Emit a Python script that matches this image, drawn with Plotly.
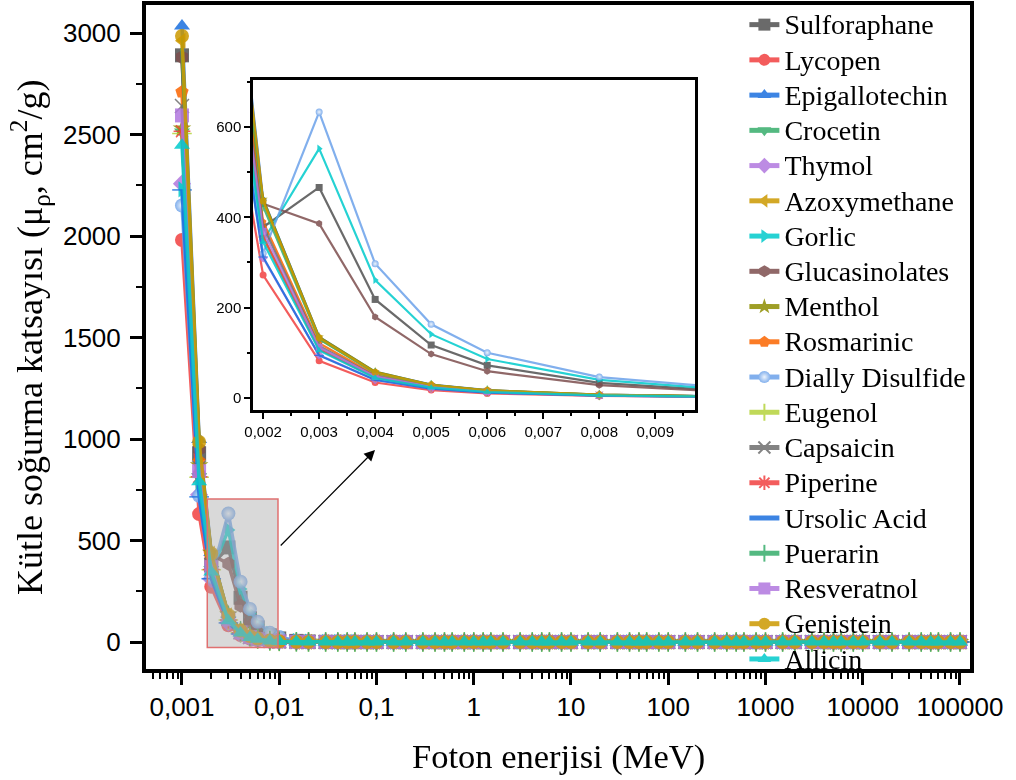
import plotly.graph_objects as go

# Photon energies (MeV)
energy_low = [0.001, 0.0015, 0.002, 0.003, 0.004, 0.005, 0.006, 0.008, 0.01]
energy_high = [0.015, 0.02, 0.03, 0.04, 0.05, 0.06, 0.08,
               0.1, 0.15, 0.2, 0.3, 0.4, 0.5, 0.6, 0.8,
               1, 1.25, 1.5, 2, 3, 4, 5, 6, 8,
               10, 15, 20, 30, 40, 50, 60, 80,
               100, 150, 200, 300, 400, 500, 600, 800,
               1000, 1500, 2000, 3000, 4000, 5000, 6000, 8000,
               10000, 15000, 20000, 30000, 40000, 50000, 60000, 80000,
               100000]

# Mass attenuation coefficients (cm2/g) in the low-energy region
sulforaphane = [2890, 930, 378, 466, 218, 117, 72, 33, 17.5]
lycopen = [1980, 630, 272, 82, 34, 17.2, 9.8, 4.1, 2.2]
epigallotechin = [3035, 998, 441, 135, 57.6, 29.4, 17.0, 7.1, 3.7]
crocetin = [2512, 814, 357, 108, 46, 23.4, 13.4, 5.7, 2.9]
thymol = [2258, 725, 310, 95, 40, 20.4, 11.8, 4.9, 2.6]
azoxymethane = [2962, 971, 435, 131, 56, 28.4, 16.4, 6.9, 3.6]
gorlic = [2230, 740, 348, 552, 261, 141, 86, 40, 21]
glucosinolates = [2880, 950, 430, 386, 179, 97, 59, 28, 15]
menthol = [2530, 870, 440, 135, 58, 29, 16.8, 7.0, 3.6]
rosmarinic = [2710, 890, 390, 121, 51, 26, 15, 6.3, 3.3]
dially_disulfide = [2150, 720, 320, 633, 297, 163, 100, 46, 25]
eugenol = [2505, 812, 356, 108, 45.8, 23.3, 13.4, 5.6, 2.9]
capsaicin = [2640, 860, 380, 115, 48.5, 24.8, 14.2, 6.0, 3.1]
piperine = [2516, 814, 357, 108, 45.7, 23.3, 13.4, 5.6, 2.9]
ursolic_acid = [2227, 715, 312, 94, 39.6, 20.2, 11.6, 4.9, 2.5]
puerarin = [2926, 960, 424, 130, 55, 28.2, 16.2, 6.8, 3.5]
resveratnol = [2594, 842, 369, 112, 47.4, 24.2, 13.9, 5.8, 3.0]
genistein = [2985, 985, 436, 133, 56.5, 28.9, 16.7, 7.0, 3.6]
allicin = [2447, 790, 345, 105, 44, 22.5, 13.0, 5.4, 2.8]

# High-energy tails (cm2/g): compounds without / with sulfur
tail_plain = [0.95, 0.53, 0.30, 0.235, 0.21, 0.196, 0.179,
              0.167, 0.148, 0.135, 0.117, 0.105, 0.0957, 0.0887, 0.078,
              0.0701, 0.0627, 0.0571, 0.049, 0.0396, 0.034, 0.0303, 0.0277, 0.0243,
              0.0222, 0.0195, 0.0183, 0.0173, 0.0169, 0.0168, 0.0168, 0.0169,
              0.017, 0.0173, 0.0175, 0.0179, 0.0181, 0.0183, 0.0184, 0.0186,
              0.0187, 0.0189, 0.019, 0.0191, 0.0192, 0.0192, 0.0193, 0.0193,
              0.0193, 0.0194, 0.0194, 0.0194, 0.0195, 0.0195, 0.0195, 0.0195,
              0.0195]
tail_sulfur = [5.5, 2.45, 0.88, 0.50, 0.345, 0.27, 0.205,
               0.178, 0.148, 0.134, 0.116, 0.104, 0.0948, 0.0878, 0.0772,
               0.0694, 0.0621, 0.0566, 0.0488, 0.0398, 0.0346, 0.0311, 0.0287, 0.0256,
               0.0237, 0.0214, 0.0205, 0.0199, 0.0198, 0.0199, 0.02, 0.0203,
               0.0206, 0.0211, 0.0215, 0.022, 0.0223, 0.0225, 0.0227, 0.0229,
               0.0231, 0.0233, 0.0235, 0.0236, 0.0237, 0.0238, 0.0238, 0.0239,
               0.0239, 0.024, 0.024, 0.024, 0.0241, 0.0241, 0.0241, 0.0241,
               0.0241]

x_tick_vals = [0.001, 0.01, 0.1, 1, 10, 100, 1000, 10000, 100000]
x_tick_text = ["0,001", "0,01", "0,1", "1", "10", "100", "1000", "10000", "100000"]
y_tick_vals = [0, 500, 1000, 1500, 2000, 2500, 3000]

# name, low-energy values, tail, colour, symbol
series = [
    ("Sulforaphane", sulforaphane, tail_sulfur, "#515151", "square"),
    ("Lycopen", lycopen, tail_plain, "#F14040", "circle"),
    ("Epigallotechin", epigallotechin, tail_plain, "#1A6FDF", "triangle-up"),
    ("Crocetin", crocetin, tail_plain, "#37AD6B", "triangle-down"),
    ("Thymol", thymol, tail_plain, "#B177DE", "diamond"),
    ("Azoxymethane", azoxymethane, tail_plain, "#CC9900", "triangle-left"),
    ("Gorlic", gorlic, tail_sulfur, "#00CBCC", "triangle-right"),
    ("Glucasinolates", glucosinolates, tail_sulfur, "#7D4E4E", "hexagon"),
    ("Menthol", menthol, tail_plain, "#8E8E00", "star"),
    ("Rosmarinic", rosmarinic, tail_plain, "#FB6501", "pentagon"),
    ("Dially Disulfide", dially_disulfide, tail_sulfur, "#6CA2EA", "circle"),
    ("Eugenol", eugenol, tail_plain, "#B5D33D", "cross-thin"),
    ("Capsaicin", capsaicin, tail_plain, "#6E6E6E", "x-thin"),
    ("Piperine", piperine, tail_plain, "#F14040", "asterisk"),
    ("Ursolic Acid", ursolic_acid, tail_plain, "#1A6FDF", "line-ew"),
    ("Puerarin", puerarin, tail_plain, "#37AD6B", "line-ns"),
    ("Resveratnol", resveratnol, tail_plain, "#B177DE", "square"),
    ("Genistein", genistein, tail_plain, "#CC9900", "circle"),
    ("Allicin", allicin, tail_plain, "#00CBCC", "triangle-up"),
]

energies = energy_low + energy_high
open_symbols = {"cross-thin", "x-thin", "asterisk", "line-ew", "line-ns"}
SERIF = "Liberation Serif, Times New Roman"

fig = go.Figure()

for name, low, tail, color, symbol in series:
    values = low + tail
    is_open = symbol in open_symbols
    gradient = dict(type="radial", color="#EAF2FC") if name == "Dially Disulfide" else None
    # main panel
    fig.add_trace(go.Scatter(
        x=energies, y=values,
        name=f"<span style='font-size:28px'>{name}</span>",
        mode="lines+markers",
        line=dict(color=color, width=3.5),
        marker=dict(symbol=symbol, size=14, color=color,
                    line=dict(color=color, width=1.5 if is_open else 0),
                    gradient=gradient),
        opacity=0.85, xaxis="x", yaxis="y",
    ))
    # zoomed inset
    fig.add_trace(go.Scatter(
        x=energies, y=values, name=name, mode="lines+markers",
        line=dict(color=color, width=2.2),
        marker=dict(symbol=symbol, size=7, color=color,
                    line=dict(color=color, width=1 if is_open else 0),
                    gradient=gradient),
        opacity=0.85, showlegend=False, xaxis="x2", yaxis="y2",
    ))

X_RANGE = [-3.37, 5.103]
Y_RANGE = [-133, 3138]
INSET_X = [0.00182, 0.00971]
INSET_Y = [-27, 704]

tick_font = dict(family="Liberation Sans, Arial", size=26, color="black")
inset_font = dict(family="Liberation Sans, Arial", size=15, color="black")

fig.update_layout(
    width=1016, height=780,
    margin=dict(l=146, r=46, t=5, b=111, autoexpand=False),
    paper_bgcolor="white", plot_bgcolor="white",
    separators=",.",
    showlegend=True,
    legend=dict(x=0.7262, y=1.0045, xanchor="left", yanchor="top",
                bgcolor="rgba(0,0,0,0)", borderwidth=0,
                font=dict(family=SERIF, size=24.8, color="black"),
                tracegroupgap=0, itemsizing="constant", maxheight=770),
    xaxis=dict(type="log", range=X_RANGE, domain=[0, 1], anchor="y",
               tickvals=x_tick_vals, ticktext=x_tick_text,
               ticks="outside", ticklen=12, tickwidth=3, tickcolor="black",
               minor=dict(ticks="outside", ticklen=6, tickwidth=2, dtick="D1", tickcolor="black"),
               showline=True, linewidth=4, linecolor="black", mirror=True,
               showgrid=False, zeroline=False, tickfont=tick_font),
    yaxis=dict(range=Y_RANGE, domain=[0, 1], anchor="x",
               tickvals=y_tick_vals, ticklabelstandoff=4,
               ticks="outside", ticklen=12, tickwidth=3, tickcolor="black",
               minor=dict(ticks="outside", ticklen=6, tickwidth=2, dtick=250, tickcolor="black"),
               showline=True, linewidth=4, linecolor="black", mirror=True,
               showgrid=False, zeroline=False, tickfont=tick_font),
    # inward ticks along the top and right edges
    xaxis3=dict(type="log", range=X_RANGE, overlaying="x", side="top", anchor="y",
                tickvals=x_tick_vals, showticklabels=False,
                ticks="inside", ticklen=12, tickwidth=3, tickcolor="black",
                minor=dict(ticks="inside", ticklen=6, tickwidth=2, dtick="D1", tickcolor="black"),
                showline=False, showgrid=False, zeroline=False),
    yaxis3=dict(range=Y_RANGE, overlaying="y", side="right", anchor="x",
                tickvals=y_tick_vals, showticklabels=False,
                ticks="inside", ticklen=12, tickwidth=3, tickcolor="black",
                minor=dict(ticks="inside", ticklen=6, tickwidth=2, dtick=250, tickcolor="black"),
                showline=False, showgrid=False, zeroline=False),
    # inset panel
    xaxis2=dict(range=INSET_X, domain=[0.1299, 0.6663], anchor="y2",
                dtick=0.001, tick0=0,
                ticks="outside", ticklen=6, tickwidth=2, tickcolor="black",
                minor=dict(ticks="outside", ticklen=3, tickwidth=1.5, dtick=0.0005, tickcolor="black"),
                showline=True, linewidth=2.5, linecolor="black", mirror=True,
                showgrid=False, zeroline=False, tickfont=inset_font),
    yaxis2=dict(range=INSET_Y, domain=[0.390, 0.887], anchor="x2",
                dtick=200, tick0=0,
                ticks="outside", ticklen=6, tickwidth=2, tickcolor="black",
                minor=dict(ticks="outside", ticklen=3, tickwidth=1.5, dtick=100, tickcolor="black"),
                showline=True, linewidth=2.5, linecolor="black", mirror=True,
                showgrid=False, zeroline=False, tickfont=inset_font),
    xaxis4=dict(range=INSET_X, overlaying="x2", side="top", anchor="y2",
                dtick=0.001, tick0=0, showticklabels=False,
                ticks="inside", ticklen=6, tickwidth=2, tickcolor="black",
                minor=dict(ticks="inside", ticklen=3, tickwidth=1.5, dtick=0.0005, tickcolor="black"),
                showline=False, showgrid=False, zeroline=False),
    yaxis4=dict(range=INSET_Y, overlaying="y2", side="right", anchor="x2",
                dtick=200, tick0=0, showticklabels=False,
                ticks="inside", ticklen=6, tickwidth=2, tickcolor="black",
                minor=dict(ticks="inside", ticklen=3, tickwidth=1.5, dtick=100, tickcolor="black"),
                showline=False, showgrid=False, zeroline=False),
)

# highlighted region shown in the inset
fig.add_shape(type="rect", xref="x", yref="y",
              x0=INSET_X[0], x1=INSET_X[1], y0=INSET_Y[0], y1=INSET_Y[1],
              fillcolor="rgba(170,170,170,0.45)", line=dict(color="#E07070", width=1.5),
              layer="above")

# arrow from the region to the inset
fig.add_annotation(xref="x", yref="y", axref="x", ayref="y",
                   x=-1.015, y=946, ax=-2.0, ay=468,
                   text="", showarrow=True, arrowhead=2, arrowsize=1.8,
                   arrowwidth=1.2, arrowcolor="black")

# axis titles
fig.add_annotation(xref="paper", yref="paper", x=0.5, y=-0.1325,
                   xanchor="center", yanchor="middle",
                   text="Foton enerjisi (MeV)", showarrow=False,
                   font=dict(family=SERIF, size=34.5, color="black"))
fig.add_annotation(xref="paper", yref="paper", x=-0.1408, y=0.5, textangle=-90,
                   xanchor="center", yanchor="middle",
                   text="Kütle soğurma katsayısı (μ<sub>ρ</sub>, cm<sup>2</sup>/g)", showarrow=False,
                   font=dict(family=SERIF, size=36, color="black"))

fig.write_html("out.html")
